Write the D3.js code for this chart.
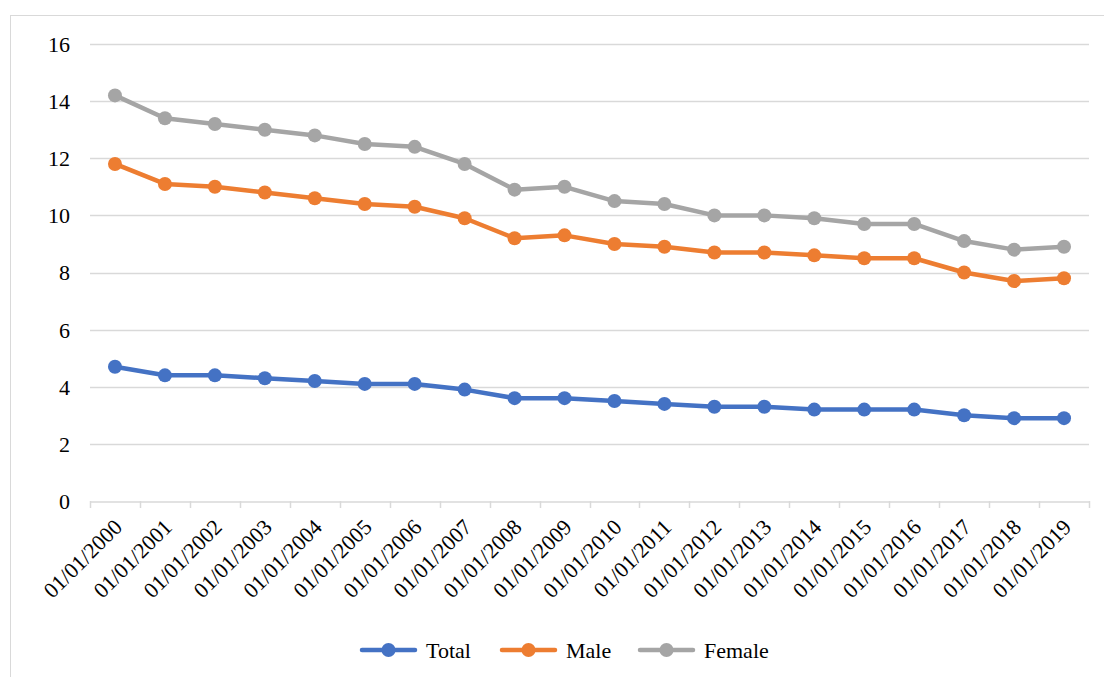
<!DOCTYPE html>
<html><head><meta charset="utf-8">
<script src="https://cdn.jsdelivr.net/npm/d3@7"></script>
<style>body{margin:0;background:#fff}svg{display:block}svg text{font-family:"Liberation Serif","Times New Roman",serif}</style>
</head><body>
<svg id="c" width="1104" height="677"></svg>
<script>
const categories = ["01/01/2000","01/01/2001","01/01/2002","01/01/2003","01/01/2004","01/01/2005","01/01/2006","01/01/2007","01/01/2008","01/01/2009","01/01/2010","01/01/2011","01/01/2012","01/01/2013","01/01/2014","01/01/2015","01/01/2016","01/01/2017","01/01/2018","01/01/2019"];
const totalValues = [4.7,4.4,4.4,4.3,4.2,4.1,4.1,3.9,3.6,3.6,3.5,3.4,3.3,3.3,3.2,3.2,3.2,3.0,2.9,2.9];
const maleValues = [11.8,11.1,11.0,10.8,10.6,10.4,10.3,9.9,9.2,9.3,9.0,8.9,8.7,8.7,8.6,8.5,8.5,8.0,7.7,7.8];
const femaleValues = [14.2,13.4,13.2,13.0,12.8,12.5,12.4,11.8,10.9,11.0,10.5,10.4,10.0,10.0,9.9,9.7,9.7,9.1,8.8,8.9];
const seriesNames = ["Total","Male","Female"];
const yTicks = [0,2,4,6,8,10,12,14,16];

(function(){
const series = [
  {name: seriesNames[0], values: totalValues, color: "#4472C4"},
  {name: seriesNames[1], values: maleValues, color: "#ED7D31"},
  {name: seriesNames[2], values: femaleValues, color: "#A5A5A5"}
];

const svg = d3.select("#c");

svg.append("rect").attr("x",10.5).attr("y",15.5).attr("width",1100).attr("height",700)
  .attr("fill","none").attr("stroke","#d9d9d9").attr("stroke-width",1);

const pl = 90, pr = 1089, pt = 44, pb = 501;
const x = d3.scaleBand().domain(categories).range([pl, pr]);
const y = d3.scaleLinear().domain([0,16]).range([pb, pt]);

svg.append("g").selectAll("line").data(yTicks.filter(d=>d>0)).join("line")
  .attr("x1",pl).attr("x2",pr)
  .attr("y1",d=>Math.round(y(d))+0.5).attr("y2",d=>Math.round(y(d))+0.5)
  .attr("stroke","#d9d9d9").attr("stroke-width",1.5);

svg.append("g").selectAll("text").data(yTicks).join("text")
  .attr("x",70).attr("y",d=>y(d)).attr("dy","0.36em")
  .attr("text-anchor","end").attr("font-size",22)
  .attr("fill","#000").text(d=>d);

const xAxis = d3.axisBottom(x).tickSize(0).tickFormat(()=>"");
const xg = svg.append("g").attr("transform",`translate(0,${Math.round(pb)+0.5})`).call(xAxis);
xg.select(".domain").attr("stroke","#d9d9d9").attr("stroke-width",1.5);
const bounds = categories.map(c=>x(c)).concat([pr]);
svg.append("g").selectAll("line").data(bounds).join("line")
  .attr("x1",d=>Math.round(d)+0.5).attr("x2",d=>Math.round(d)+0.5)
  .attr("y1",pb).attr("y2",pb+7)
  .attr("stroke","#d9d9d9").attr("stroke-width",1.5);

svg.append("g").selectAll("text").data(categories).join("text")
  .attr("transform",d=>`translate(${x(d)+x.bandwidth()/2+3},${pb+22}) rotate(-45)`)
  .attr("text-anchor","end").attr("dy","0.35em")
  .attr("font-size",22).attr("fill","#000")
  .text(d=>d);

const line = d3.line().x((d,i)=>x(categories[i])+x.bandwidth()/2).y(d=>y(d));
series.forEach(s=>{
  const g = svg.append("g");
  g.append("path").datum(s.values).attr("d",line).attr("fill","none")
    .attr("stroke",s.color).attr("stroke-width",4.5).attr("stroke-linejoin","round").attr("stroke-linecap","round");
  g.selectAll("circle").data(s.values).join("circle")
    .attr("cx",(d,i)=>x(categories[i])+x.bandwidth()/2).attr("cy",d=>y(d))
    .attr("r",7).attr("fill",s.color);
});

const legendX = [360, 500, 638];
const ly = 650;
series.forEach((s,i)=>{
  const g = svg.append("g").attr("transform",`translate(${legendX[i]},${ly})`);
  g.append("line").attr("x1",2).attr("x2",55).attr("y1",0).attr("y2",0)
    .attr("stroke",s.color).attr("stroke-width",4.5).attr("stroke-linecap","round");
  g.append("circle").attr("cx",28.5).attr("cy",0).attr("r",7).attr("fill",s.color);
  g.append("text").attr("x",66).attr("y",0).attr("dy","0.36em")
    .attr("font-size",22).attr("fill","#000").text(s.name);
});
})();
</script>
</body></html>
